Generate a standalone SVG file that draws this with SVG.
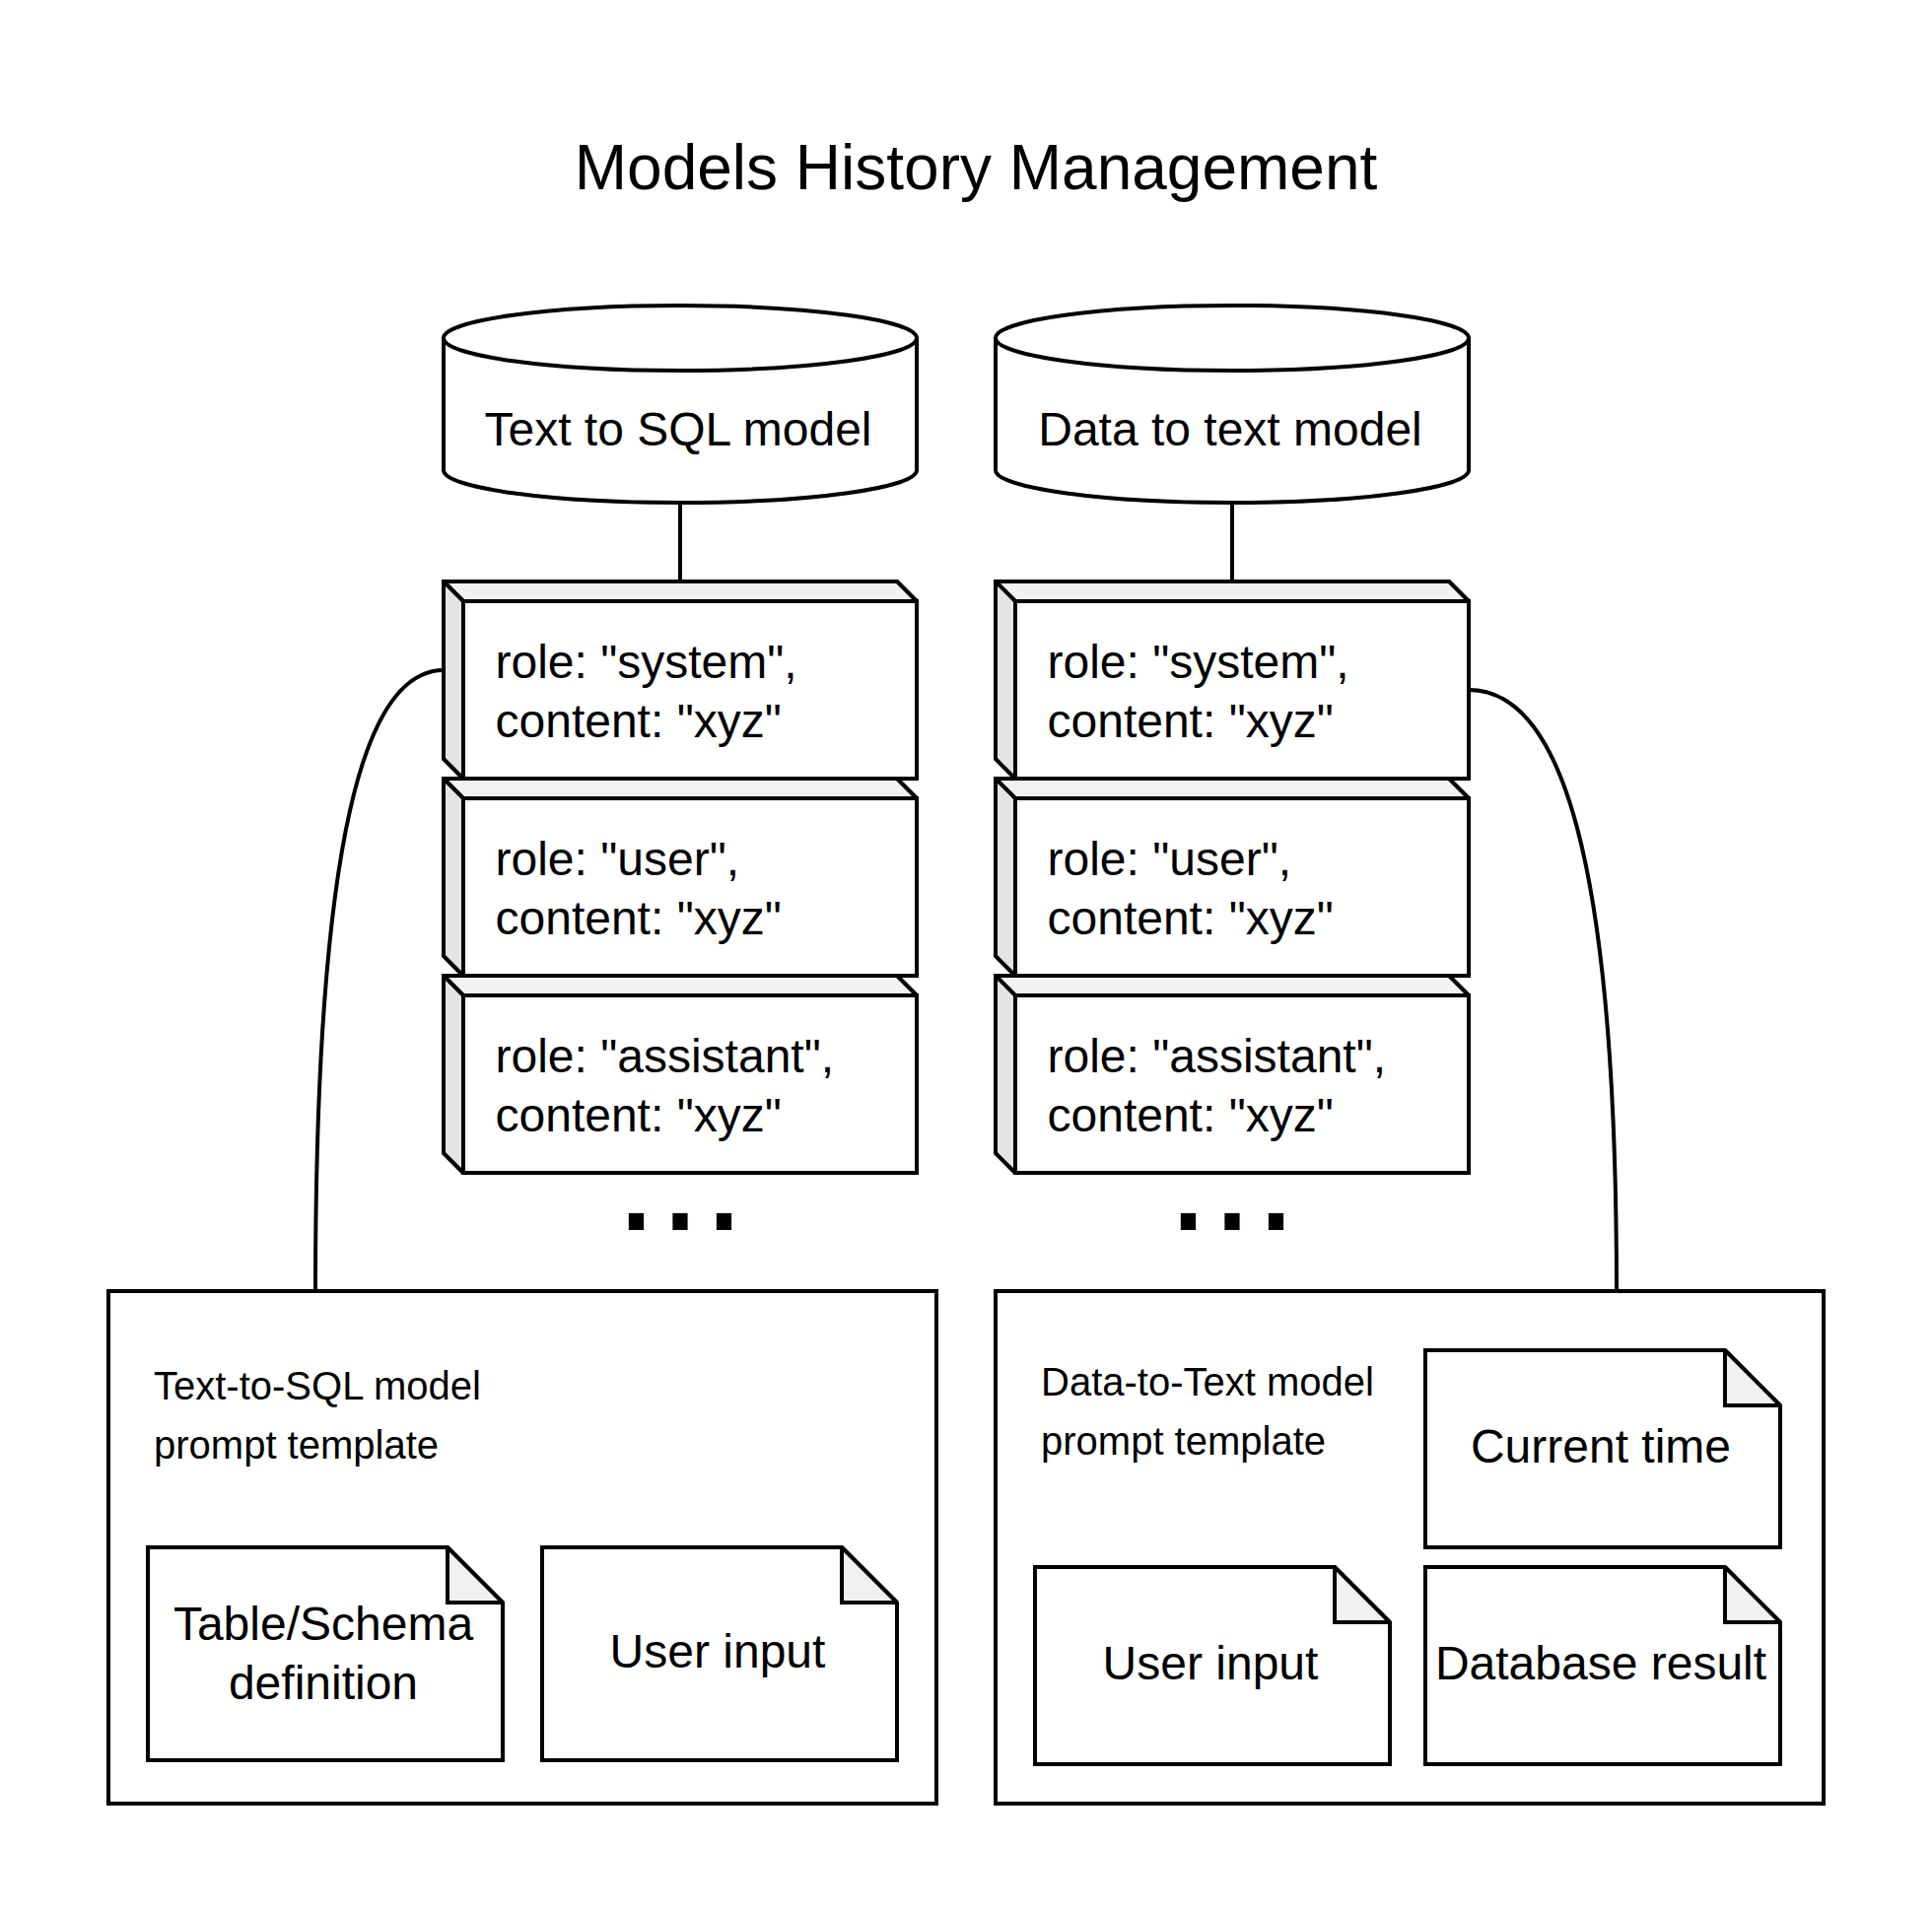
<svg xmlns="http://www.w3.org/2000/svg" width="1960" height="1940" viewBox="0 0 1960 1940">
<style>
.s{fill:#fff;stroke:#000;stroke-width:4;stroke-miterlimit:10}
.l{fill:none;stroke:#000;stroke-width:4;stroke-miterlimit:10}
.t{fill:#f1f1f1;stroke:#000;stroke-width:4;stroke-miterlimit:2}
.d{fill:#e4e4e4;stroke:#000;stroke-width:4;stroke-miterlimit:2}
text{font-family:"Liberation Sans",Arial,sans-serif;fill:#000;font-size:48px}
.m{text-anchor:middle}
.h{font-size:64px}
.p{font-size:40px}
.dots{font-size:160px}
</style>
<defs>
<g id="cyl"><path class="s" d="M0 33C0 15 107 0 240 0S480 15 480 33V167C480 185 373 200 240 200S0 185 0 167Z"/><path class="l" d="M0 33C0 51 107 66 240 66S480 51 480 33"/></g>
<g id="block"><path class="s" d="M0 0H460L480 20V200H20L0 180Z"/><path class="t" d="M0 0H460L480 20H20Z"/><path class="d" d="M0 0L20 20V200L0 180Z"/><rect class="s" x="20" y="20" width="460" height="180"/></g>
<g id="note"><path class="s" d="M0 0H304L360 56V200H0Z"/><path class="t" d="M304 0L360 56H304Z"/></g>
<g id="note2"><path class="s" d="M0 0H304L360 56V216H0Z"/><path class="t" d="M304 0L360 56H304Z"/></g>
</defs>
<text id="title" class="h m" x="990" y="192">Models History Management</text>
<g id="connectors">
<path class="l" d="M690 510V590"/><path class="l" d="M1250 510V590"/>
<path class="l" d="M450 680C370 680 320 850 320 1310"/>
<path class="l" d="M1490 700C1582 700 1640 865 1640 1310"/>
</g>
<g id="cyl-left"><use href="#cyl" x="450" y="310"/><text class="m" x="688" y="452">Text to SQL model</text></g>
<g id="cyl-right"><use href="#cyl" x="1010" y="310"/><text class="m" x="1248" y="452">Data to text model</text></g>
<g id="left-system"><use href="#block" x="450" y="590"/><text x="502.5" y="688">role: "system",</text><text x="502.5" y="748">content: "xyz"</text></g>
<g id="left-user"><use href="#block" x="450" y="790"/><text x="502.5" y="888">role: "user",</text><text x="502.5" y="948">content: "xyz"</text></g>
<g id="left-assistant"><use href="#block" x="450" y="990"/><text x="502.5" y="1088">role: "assistant",</text><text x="502.5" y="1148">content: "xyz"</text></g>
<g id="right-system"><use href="#block" x="1010" y="590"/><text x="1062.5" y="688">role: "system",</text><text x="1062.5" y="748">content: "xyz"</text></g>
<g id="right-user"><use href="#block" x="1010" y="790"/><text x="1062.5" y="888">role: "user",</text><text x="1062.5" y="948">content: "xyz"</text></g>
<g id="right-assistant"><use href="#block" x="1010" y="990"/><text x="1062.5" y="1088">role: "assistant",</text><text x="1062.5" y="1148">content: "xyz"</text></g>
<g id="dots-left"><text class="dots m" x="690" y="1248">...</text></g>
<g id="dots-right"><text class="dots m" x="1250" y="1248">...</text></g>
<g id="template-left"><rect class="s" x="110" y="1310" width="840" height="520"/><text class="p" x="156" y="1420">Text-to-SQL model</text><text class="p" x="156" y="1480">prompt template</text></g>
<g id="template-right"><rect class="s" x="1010" y="1310" width="840" height="520"/><text class="p" x="1056" y="1416">Data-to-Text model</text><text class="p" x="1056" y="1476">prompt template</text></g>
<g id="note-schema"><use href="#note2" x="150" y="1570"/><text class="m" x="328" y="1664">Table/Schema</text><text class="m" x="328" y="1724">definition</text></g>
<g id="note-input-left"><use href="#note2" x="550" y="1570"/><text class="m" x="728" y="1692">User input</text></g>
<g id="note-time"><use href="#note" x="1446" y="1370"/><text class="m" x="1624" y="1484">Current time</text></g>
<g id="note-input-right"><use href="#note" x="1050" y="1590"/><text class="m" x="1228" y="1704">User input</text></g>
<g id="note-result"><use href="#note" x="1446" y="1590"/><text class="m" x="1624" y="1704">Database result</text></g>
</svg>
